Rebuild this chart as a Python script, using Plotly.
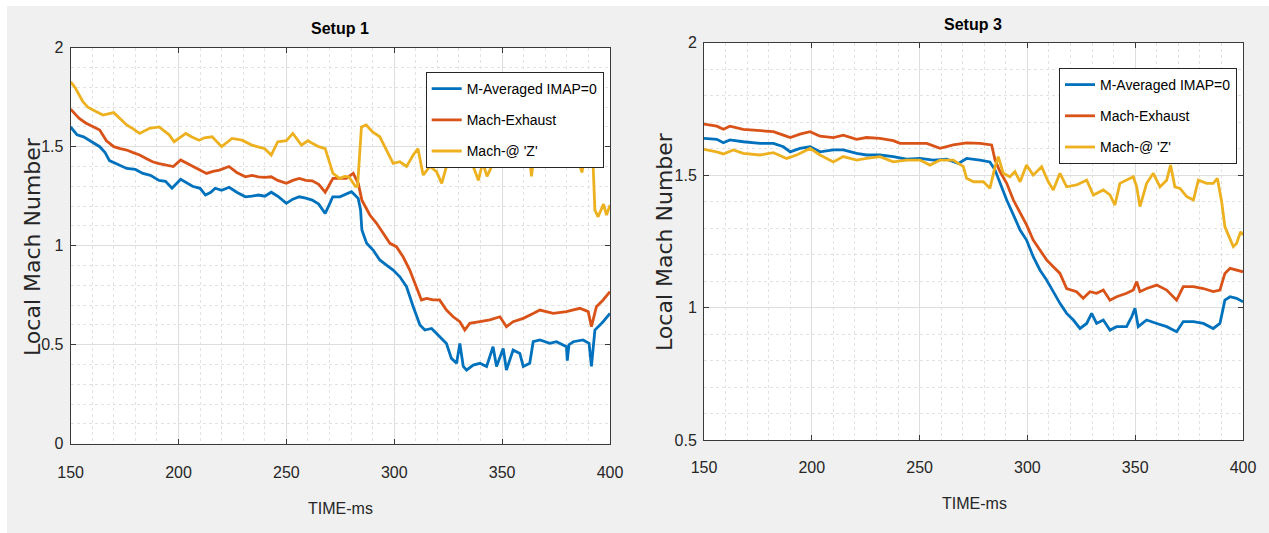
import plotly.graph_objects as go

# ---------------- data ----------------
series_names = ["M-Averaged IMAP=0", "Mach-Exhaust", "Mach-@ 'Z'"]
series_colors = ["#0072BD", "#D95319", "#EDB120"]
panel_titles = ["Setup 1", "Setup 3"]
x_ticks = [150, 200, 250, 300, 350, 400]
y_ticks_1 = [0, 0.5, 1, 1.5, 2]
y_ticks_3 = [0.5, 1, 1.5, 2]

# Setup 1
s1_avg_t = [150, 153, 156, 160, 163.5, 166, 168, 172, 176, 180, 183.5, 187, 191, 194, 197, 201, 204, 206.5, 210, 212.5,
            215, 217, 220, 223.5, 227, 231, 234, 237, 240, 243, 246, 250, 253, 256, 259, 262, 265, 268, 270, 271.5,
            274.8, 277.5, 280.2, 283.3, 284.4, 285, 287.2, 290.2, 293.3, 296.4, 299.5, 302.6, 305.7, 308.8, 311.9,
            314.2, 317.3, 321.1, 324.2, 326.5, 328.9, 330.4, 332, 333.5, 336.6, 339.7, 342.8, 345.8, 347.4, 350.5,
            352, 355.1, 358.2, 359.8, 362.8, 364.4, 367.5, 372.1, 375.2, 379.8, 380.2, 381, 383, 387.5, 390.3,
            391.4, 393, 396.8, 400]
s1_avg_v = [1.60, 1.56, 1.55, 1.525, 1.50, 1.47, 1.43, 1.41, 1.39, 1.385, 1.365, 1.355, 1.33, 1.325, 1.29, 1.335,
            1.315, 1.30, 1.29, 1.256, 1.27, 1.29, 1.28, 1.295, 1.27, 1.247, 1.25, 1.256, 1.25, 1.27, 1.25, 1.214,
            1.235, 1.247, 1.24, 1.23, 1.21, 1.163, 1.21, 1.247, 1.247, 1.26, 1.273, 1.239, 1.18, 1.08, 1.012, 0.978,
            0.928, 0.902, 0.877, 0.843, 0.793, 0.692, 0.60, 0.574, 0.582, 0.54, 0.506, 0.431, 0.406, 0.506, 0.39,
            0.372, 0.397, 0.406, 0.39, 0.49, 0.39, 0.481, 0.372, 0.473, 0.456, 0.39, 0.406, 0.515, 0.524, 0.507,
            0.515, 0.49, 0.42, 0.50, 0.515, 0.524, 0.507, 0.39, 0.574, 0.616, 0.658]

s1_exh_t = [150, 154, 157, 160.4, 163.5, 166.6, 170, 173, 176, 179, 182, 185, 188, 191, 194.6, 197.6, 201, 204, 207,
            210, 213, 216, 219, 223.4, 227, 231, 234, 237, 240, 243, 246, 250, 253, 256, 259, 262, 265, 268, 270,
            271.6, 274.8, 277.7, 281, 283.3, 285, 288.7, 291.8, 294.9, 298, 301, 304.1, 307.2, 310.3, 312.6, 315,
            318, 321, 324.2, 327.3, 330.4, 332.7, 335, 339.7, 344.3, 349, 352, 355.1, 359.8, 364.4, 367.5, 373.7,
            379.8, 386, 389.9, 391.4, 393.7, 396.8, 400]
s1_exh_v = [1.69, 1.643, 1.62, 1.60, 1.584, 1.53, 1.50, 1.49, 1.483, 1.47, 1.458, 1.44, 1.424, 1.415, 1.407, 1.40,
            1.433, 1.415, 1.40, 1.38, 1.365, 1.375, 1.382, 1.40, 1.37, 1.348, 1.355, 1.348, 1.345, 1.348, 1.33,
            1.315, 1.33, 1.34, 1.33, 1.328, 1.31, 1.27, 1.31, 1.34, 1.34, 1.34, 1.365, 1.315, 1.23, 1.155, 1.113,
            1.062, 1.012, 0.995, 0.944, 0.877, 0.793, 0.726, 0.734, 0.726, 0.726, 0.675, 0.641, 0.616, 0.574,
            0.608, 0.616, 0.625, 0.641, 0.591, 0.616, 0.633, 0.658, 0.675, 0.658, 0.667, 0.684, 0.667, 0.591,
            0.692, 0.726, 0.768]

s1_z_t = [150, 152, 155.7, 158, 160.4, 165, 170, 173, 176, 179, 182, 186.6, 191, 195.7, 198, 203.4, 206, 209.5, 212,
          215.6, 220, 224.8, 229.4, 234, 240, 243, 246, 250, 253, 257, 260, 262, 265, 268, 271.6, 274.7, 277, 279,
          282, 283, 284.8, 287, 290, 293.3, 296.4, 299.5, 302.6, 305.7, 308.8, 311, 313.4, 316.5, 319.6, 322,
          324.2, 327.3, 330, 333, 336.6, 339, 341, 343, 346, 350, 355, 360, 363, 363.6, 364.5, 370, 375, 380, 385,
          387, 388, 391, 392.2, 393, 394.5, 397, 398.4, 400]
s1_z_v = [1.828, 1.80, 1.727, 1.70, 1.685, 1.66, 1.672, 1.64, 1.61, 1.59, 1.567, 1.593, 1.60, 1.56, 1.525, 1.567,
          1.55, 1.533, 1.545, 1.55, 1.50, 1.542, 1.533, 1.508, 1.49, 1.458, 1.525, 1.53, 1.567, 1.508, 1.53, 1.517,
          1.50, 1.49, 1.365, 1.34, 1.35, 1.348, 1.30, 1.30, 1.60, 1.61, 1.575, 1.55, 1.483, 1.416, 1.424, 1.40,
          1.458, 1.49, 1.357, 1.40, 1.374, 1.315, 1.40, 1.407, 1.43, 1.42, 1.40, 1.33, 1.42, 1.35, 1.42, 1.44,
          1.43, 1.45, 1.42, 1.35, 1.43, 1.44, 1.43, 1.45, 1.44, 1.37, 1.43, 1.40, 1.40, 1.18, 1.146, 1.21, 1.155,
          1.205]

# Setup 3
s3_avg_t = [150, 155.9, 159, 162, 168.2, 176, 182.2, 186.8, 190, 194.5, 199.2, 203.8, 210, 214.6, 220.8, 225.4,
            231.6, 237.8, 244, 250.2, 256.4, 262.5, 268, 271.8, 278, 282.6, 285, 287.3, 290.4, 293.5, 296.6, 299.6,
            302.7, 305.8, 308.9, 312, 315.1, 318.2, 321.3, 324.4, 327.5, 329.8, 332.1, 335.2, 338.3, 341.4, 346,
            348.4, 349.9, 351.4, 355.3, 360, 364.6, 369.2, 372.3, 377, 381.6, 386.2, 389.3, 391.6, 394, 397, 400]
s3_avg_v = [1.639, 1.635, 1.622, 1.633, 1.626, 1.62, 1.62, 1.607, 1.588, 1.601, 1.607, 1.588, 1.595, 1.595, 1.582,
            1.576, 1.576, 1.57, 1.56, 1.563, 1.557, 1.56, 1.544, 1.563, 1.557, 1.55, 1.519, 1.469, 1.406, 1.35,
            1.293, 1.255, 1.192, 1.142, 1.104, 1.06, 1.016, 0.978, 0.953, 0.921, 0.94, 0.978, 0.94, 0.953, 0.915,
            0.928, 0.928, 0.966, 0.997, 0.928, 0.953, 0.94, 0.928, 0.909, 0.947, 0.947, 0.94, 0.921, 0.94, 1.028,
            1.041, 1.035, 1.022]

s3_exh_t = [150, 155.9, 159, 162, 168.2, 176, 182.2, 186.8, 190, 194.5, 199.2, 203.8, 210, 214.6, 220.8, 225.4,
            231.6, 237.8, 240.9, 247, 253.3, 259.5, 265.6, 271.8, 278, 283.4, 285, 287.3, 290.4, 293.5, 296.6,
            299.6, 302.7, 305.8, 308.9, 312, 315.1, 318.2, 322.8, 325.9, 329, 332.1, 335.2, 338.3, 341.4, 346,
            349.1, 350.7, 352.2, 355.3, 360, 364.6, 369.2, 372.3, 377, 381.6, 386.2, 389.3, 391.6, 394, 397, 400]
s3_exh_v = [1.693, 1.685, 1.673, 1.685, 1.673, 1.668, 1.664, 1.651, 1.642, 1.655, 1.664, 1.647, 1.642, 1.651, 1.635,
            1.642, 1.639, 1.63, 1.62, 1.62, 1.62, 1.601, 1.614, 1.622, 1.62, 1.614, 1.557, 1.513, 1.469, 1.406,
            1.356, 1.312, 1.255, 1.217, 1.18, 1.154, 1.129, 1.072, 1.06, 1.035, 1.06, 1.054, 1.066, 1.028, 1.041,
            1.054, 1.066, 1.098, 1.06, 1.072, 1.085, 1.066, 1.028, 1.079, 1.079, 1.072, 1.06, 1.066, 1.129, 1.148,
            1.142, 1.135]

s3_z_t = [150, 155.9, 159, 163.6, 168.2, 176, 182.2, 188.3, 193, 199.2, 203.8, 210, 214.6, 220.8, 225.4, 231.6,
          237.8, 244, 250.2, 254.8, 259.5, 265.6, 270.3, 271.8, 275, 279.6, 282.6, 285, 286.5, 288.8, 291.9, 294.2,
          296.6, 299.6, 302.7, 306.6, 309.7, 312, 315.1, 318.2, 322.8, 327.5, 330.6, 335.2, 338.3, 340.6, 342.9,
          346, 349.1, 350.7, 352.2, 355.3, 358.4, 361.5, 364.6, 366.4, 368.4, 370.8, 373.9, 377, 379.3, 383.1,
          386.2, 388.1, 390.1, 391.6, 393.2, 395.5, 397, 398.9, 400]
s3_z_v = [1.597, 1.588, 1.58, 1.595, 1.582, 1.576, 1.585, 1.563, 1.576, 1.601, 1.576, 1.55, 1.57, 1.557, 1.563,
          1.57, 1.55, 1.557, 1.557, 1.538, 1.557, 1.557, 1.532, 1.488, 1.475, 1.475, 1.45, 1.532, 1.57, 1.507,
          1.494, 1.513, 1.475, 1.538, 1.50, 1.532, 1.475, 1.444, 1.507, 1.456, 1.463, 1.481, 1.425, 1.444, 1.425,
          1.387, 1.469, 1.481, 1.494, 1.456, 1.381, 1.469, 1.507, 1.456, 1.481, 1.538, 1.456, 1.45, 1.419, 1.406,
          1.481, 1.469, 1.469, 1.488, 1.40, 1.305, 1.274, 1.23, 1.242, 1.286, 1.274]

# ---------------- figure ----------------
W, H = 1269, 533
FONT = "Liberation Sans, Arial, sans-serif"
TXT = "#262626"

def px_x(p):
    return p / W

def px_y(p):
    return 1 - p / H

fig = go.Figure()

panels = [
    dict(data=[(s1_avg_t, s1_avg_v), (s1_exh_t, s1_exh_v), (s1_z_t, s1_z_v)], xa="x", ya="y", legend="legend"),
    dict(data=[(s3_avg_t, s3_avg_v), (s3_exh_t, s3_exh_v), (s3_z_t, s3_z_v)], xa="x2", ya="y2", legend="legend2"),
]
for pi, p in enumerate(panels):
    for si, (t, v) in enumerate(p["data"]):
        fig.add_trace(go.Scatter(
            x=t, y=v, mode="lines", name=series_names[si],
            line=dict(color=series_colors[si], width=2.8),
            xaxis=p["xa"], yaxis=p["ya"], legend=p["legend"],
            legendgroup=f"g{pi}{si}", showlegend=True,
        ))

axis_common = dict(
    showline=True, linecolor="#3a3a3a", linewidth=1, mirror="ticks",
    ticks="inside", ticklen=5, tickcolor="#3a3a3a", tickwidth=1,
    showgrid=True, gridcolor="#dedede", gridwidth=1,
    zeroline=False, automargin=False,
    tickfont=dict(family=FONT, size=16, color=TXT),
)
minor_common = dict(showgrid=True, gridcolor="#e2e2e2", griddash="dot", ticks="")

dom1_x = [px_x(70.6), px_x(610)]
dom1_y = [px_y(443.7), px_y(47.7)]
dom3_x = [px_x(704), px_x(1243)]
dom3_y = [px_y(440), px_y(42.7)]

legend_common = dict(xanchor="left", yanchor="top", bgcolor="white", bordercolor="#262626", borderwidth=1,
                     font=dict(family=FONT, size=14, color="black"),
                     traceorder="grouped", tracegroupgap=10, itemwidth=30)

fig.update_layout(
    width=W, height=H,
    margin=dict(l=0, r=0, t=0, b=0, autoexpand=False),
    paper_bgcolor="#f0f0f0", plot_bgcolor="white",
    xaxis=dict(domain=dom1_x, range=[150, 400], tickvals=x_ticks, anchor="y",
               minor=dict(dtick=10, tick0=150, **minor_common), ticklabelstandoff=14, **axis_common),
    yaxis=dict(domain=dom1_y, range=[0, 2], tickvals=y_ticks_1, anchor="x",
               minor=dict(dtick=0.1, tick0=0, **minor_common), ticklabelstandoff=3, **axis_common),
    xaxis2=dict(domain=dom3_x, range=[150, 400], tickvals=x_ticks, anchor="y2",
                minor=dict(dtick=10, tick0=150, **minor_common), ticklabelstandoff=13, **axis_common),
    yaxis2=dict(domain=dom3_y, range=[0.5, 2], tickvals=y_ticks_3, anchor="x2",
                minor=dict(dtick=0.1, tick0=0.5, **minor_common), ticklabelstandoff=3, **axis_common),
    legend=dict(x=px_x(425.7), y=px_y(72), **legend_common),
    legend2=dict(x=px_x(1059), y=px_y(68), **legend_common),
    showlegend=True,
    shapes=[
        dict(type="rect", xref="paper", yref="paper", x0=0, x1=1, y0=px_y(6), y1=1,
             fillcolor="white", line=dict(width=0), layer="below"),
        dict(type="rect", xref="paper", yref="paper", x0=0, x1=px_x(7), y0=0, y1=1,
             fillcolor="white", line=dict(width=0), layer="below"),
    ],
)

annotations = [
    dict(text="<b>" + panel_titles[0] + "</b>", x=px_x(340), y=px_y(28)),
    dict(text="<b>" + panel_titles[1] + "</b>", x=px_x(973), y=px_y(25)),
]
for a in annotations:
    a.update(xref="paper", yref="paper", showarrow=False, xanchor="center", yanchor="middle",
             font=dict(family=FONT, size=16, color="black"))

for cx, cy in [(340, 508), (974, 503)]:
    annotations.append(dict(text="TIME-ms", x=px_x(cx), y=px_y(cy), xref="paper", yref="paper",
                            showarrow=False, xanchor="center", yanchor="middle",
                            font=dict(family=FONT, size=16, color=TXT)))
for cx, cy in [(33, 247), (665, 242)]:
    annotations.append(dict(text="Local Mach Number", x=px_x(cx), y=px_y(cy), xref="paper", yref="paper",
                            showarrow=False, xanchor="center", yanchor="middle", textangle=-90,
                            font=dict(family="DejaVu Sans, Liberation Sans, sans-serif", size=22, color=TXT)))
fig.update_layout(annotations=annotations)

fig.write_html("out.html",
               post_script="document.body.style.margin='0';document.body.style.overflow='hidden';")
